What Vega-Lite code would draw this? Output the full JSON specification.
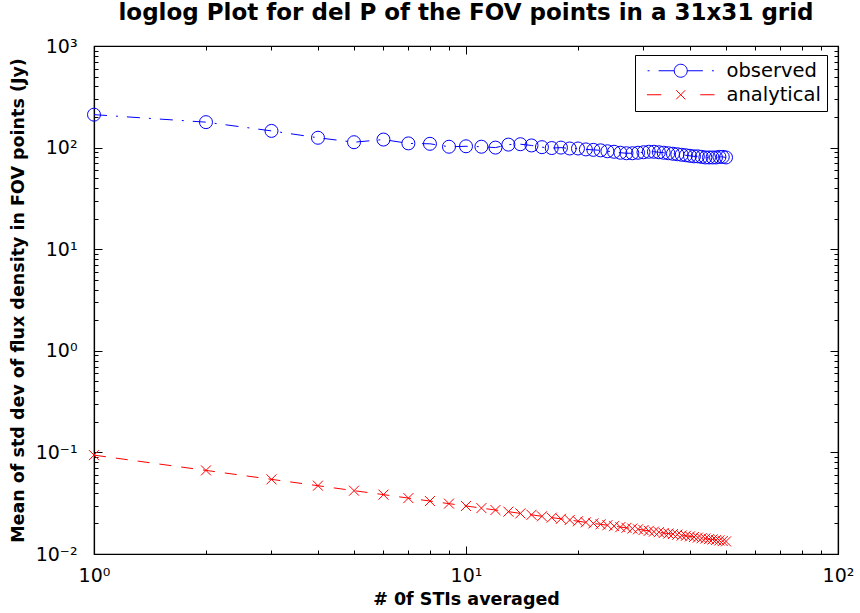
{
  "$schema": "https://vega.github.io/schema/vega-lite/v6.json",
  "width": 744,
  "height": 508,
  "autosize": {"type": "none"},
  "padding": {"left": 94, "top": 46, "right": 22, "bottom": 59},
  "background": "white",
  "title": {
    "text": "loglog Plot for del P  of the FOV points in a 31x31 grid",
    "font": "DejaVu Sans",
    "fontSize": 23,
    "fontWeight": "bold",
    "color": "black",
    "anchor": "middle",
    "offset": 12
  },
  "datasets": {
    "obs": [
      {"n": 1, "v": 211, "series": "observed"},
      {"n": 2, "v": 178, "series": "observed"},
      {"n": 3, "v": 146, "series": "observed"},
      {"n": 4, "v": 125, "series": "observed"},
      {"n": 5, "v": 113, "series": "observed"},
      {"n": 6, "v": 120, "series": "observed"},
      {"n": 7, "v": 110, "series": "observed"},
      {"n": 8, "v": 109, "series": "observed"},
      {"n": 9, "v": 102, "series": "observed"},
      {"n": 10, "v": 103, "series": "observed"},
      {"n": 11, "v": 102, "series": "observed"},
      {"n": 12, "v": 100, "series": "observed"},
      {"n": 13, "v": 107, "series": "observed"},
      {"n": 14, "v": 108, "series": "observed"},
      {"n": 15, "v": 105, "series": "observed"},
      {"n": 16, "v": 101, "series": "observed"},
      {"n": 17, "v": 99, "series": "observed"},
      {"n": 18, "v": 100, "series": "observed"},
      {"n": 19, "v": 98, "series": "observed"},
      {"n": 20, "v": 98, "series": "observed"},
      {"n": 21, "v": 96, "series": "observed"},
      {"n": 22, "v": 95, "series": "observed"},
      {"n": 23, "v": 94, "series": "observed"},
      {"n": 24, "v": 92, "series": "observed"},
      {"n": 25, "v": 91, "series": "observed"},
      {"n": 26, "v": 89, "series": "observed"},
      {"n": 27, "v": 88, "series": "observed"},
      {"n": 28, "v": 88, "series": "observed"},
      {"n": 29, "v": 89, "series": "observed"},
      {"n": 30, "v": 90, "series": "observed"},
      {"n": 31, "v": 91, "series": "observed"},
      {"n": 32, "v": 91, "series": "observed"},
      {"n": 33, "v": 90, "series": "observed"},
      {"n": 34, "v": 89, "series": "observed"},
      {"n": 35, "v": 88, "series": "observed"},
      {"n": 36, "v": 87, "series": "observed"},
      {"n": 37, "v": 86, "series": "observed"},
      {"n": 38, "v": 85, "series": "observed"},
      {"n": 39, "v": 84, "series": "observed"},
      {"n": 40, "v": 83, "series": "observed"},
      {"n": 41, "v": 82, "series": "observed"},
      {"n": 42, "v": 82, "series": "observed"},
      {"n": 43, "v": 81, "series": "observed"},
      {"n": 44, "v": 80, "series": "observed"},
      {"n": 45, "v": 80, "series": "observed"},
      {"n": 46, "v": 80, "series": "observed"},
      {"n": 47, "v": 80, "series": "observed"},
      {"n": 48, "v": 81, "series": "observed"},
      {"n": 49, "v": 81, "series": "observed"},
      {"n": 50, "v": 80, "series": "observed"}
    ],
    "ana": [
      {"n": 1, "v": 0.094, "series": "analytical"},
      {"n": 2, "v": 0.0665, "series": "analytical"},
      {"n": 3, "v": 0.0543, "series": "analytical"},
      {"n": 4, "v": 0.047, "series": "analytical"},
      {"n": 5, "v": 0.042, "series": "analytical"},
      {"n": 6, "v": 0.0384, "series": "analytical"},
      {"n": 7, "v": 0.0355, "series": "analytical"},
      {"n": 8, "v": 0.0332, "series": "analytical"},
      {"n": 9, "v": 0.0313, "series": "analytical"},
      {"n": 10, "v": 0.0297, "series": "analytical"},
      {"n": 11, "v": 0.0283, "series": "analytical"},
      {"n": 12, "v": 0.0271, "series": "analytical"},
      {"n": 13, "v": 0.0261, "series": "analytical"},
      {"n": 14, "v": 0.0251, "series": "analytical"},
      {"n": 15, "v": 0.0243, "series": "analytical"},
      {"n": 16, "v": 0.0235, "series": "analytical"},
      {"n": 17, "v": 0.0228, "series": "analytical"},
      {"n": 18, "v": 0.0222, "series": "analytical"},
      {"n": 19, "v": 0.0216, "series": "analytical"},
      {"n": 20, "v": 0.021, "series": "analytical"},
      {"n": 21, "v": 0.0205, "series": "analytical"},
      {"n": 22, "v": 0.02, "series": "analytical"},
      {"n": 23, "v": 0.0196, "series": "analytical"},
      {"n": 24, "v": 0.0192, "series": "analytical"},
      {"n": 25, "v": 0.0188, "series": "analytical"},
      {"n": 26, "v": 0.0184, "series": "analytical"},
      {"n": 27, "v": 0.0181, "series": "analytical"},
      {"n": 28, "v": 0.0178, "series": "analytical"},
      {"n": 29, "v": 0.0175, "series": "analytical"},
      {"n": 30, "v": 0.0172, "series": "analytical"},
      {"n": 31, "v": 0.0169, "series": "analytical"},
      {"n": 32, "v": 0.0166, "series": "analytical"},
      {"n": 33, "v": 0.0164, "series": "analytical"},
      {"n": 34, "v": 0.0161, "series": "analytical"},
      {"n": 35, "v": 0.0159, "series": "analytical"},
      {"n": 36, "v": 0.0157, "series": "analytical"},
      {"n": 37, "v": 0.0155, "series": "analytical"},
      {"n": 38, "v": 0.0152, "series": "analytical"},
      {"n": 39, "v": 0.0151, "series": "analytical"},
      {"n": 40, "v": 0.0149, "series": "analytical"},
      {"n": 41, "v": 0.0147, "series": "analytical"},
      {"n": 42, "v": 0.0145, "series": "analytical"},
      {"n": 43, "v": 0.0143, "series": "analytical"},
      {"n": 44, "v": 0.0142, "series": "analytical"},
      {"n": 45, "v": 0.014, "series": "analytical"},
      {"n": 46, "v": 0.0139, "series": "analytical"},
      {"n": 47, "v": 0.0137, "series": "analytical"},
      {"n": 48, "v": 0.0136, "series": "analytical"},
      {"n": 49, "v": 0.0134, "series": "analytical"},
      {"n": 50, "v": 0.0133, "series": "analytical"}
    ]
  },
  "config": {
    "view": {"stroke": "black", "strokeWidth": 1.2},
    "axis": {
      "grid": false,
      "domainColor": "black",
      "domainWidth": 1.2,
      "tickColor": "black",
      "tickWidth": 1,
      "labelColor": "black",
      "titleColor": "black",
      "labelFont": "DejaVu Sans",
      "labelFontSize": 19,
      "titleFont": "DejaVu Sans",
      "titleFontSize": 17.5,
      "titleFontWeight": "bold"
    }
  },
  "resolve": {"axis": {"x": "independent", "y": "independent"}},
  "layer": [
    {
      "data": {"name": "obs"},
      "mark": {"type": "line", "strokeWidth": 1, "strokeDash": [13, 9, 2, 9]},
      "encoding": {
        "x": {
          "field": "n", "type": "quantitative",
          "scale": {"type": "log", "domain": [1, 100], "nice": false},
          "axis": {
            "orient": "bottom", "values": [1, 10, 100], "tickSize": -8,
            "labelPadding": 20, "labelFlush": false,
            "labelExpr": "datum.value < 5 ? '10⁰' : datum.value < 50 ? '10¹' : '10²'",
            "title": "# 0f STIs averaged", "titlePadding": 5
          }
        },
        "y": {
          "field": "v", "type": "quantitative",
          "scale": {"type": "log", "domain": [0.01, 1000], "nice": false},
          "axis": {
            "orient": "left", "values": [0.01, 0.1, 1, 10, 100, 1000], "tickSize": -8,
            "labelPadding": 25, "labelFlush": false,
            "labelExpr": "datum.value < 0.05 ? '10⁻²' : datum.value < 0.5 ? '10⁻¹' : datum.value < 5 ? '10⁰' : datum.value < 50 ? '10¹' : datum.value < 500 ? '10²' : '10³'",
            "title": "Mean of std dev of flux density in FOV points (Jy)", "titlePadding": 8
          }
        },
        "color": {
          "field": "series", "type": "nominal",
          "scale": {"domain": ["observed", "analytical"], "range": ["#0000ff", "#ff0000"]},
          "legend": {
            "title": null,
            "orient": "none",
            "legendX": 541,
            "legendY": 9,
            "strokeColor": "black",
            "fillColor": "white",
            "padding": 6,
            "symbolSize": 169,
            "symbolStrokeWidth": 1,
            "symbolOffset": 30,
            "labelOffset": 36,
            "labelFont": "DejaVu Sans",
            "labelFontSize": 19.5,
            "labelColor": "black",
            "rowPadding": 3,
            "encode": {
              "symbols": {
                "update": {
                  "shape": {"signal": "datum.value === 'observed' ? 'M-5.1,0L-4.8,0M-3.4,0L-1,0M1,0L3.4,0M4.8,0L5.1,0M-1,0A1,1 0 1,1 1,0A1,1 0 1,1 -1,0' : 'M-5.2,0L-3,0M-0.7,-0.7L0.7,0.7M-0.7,0.7L0.7,-0.7M3,0L5.2,0'"},
                  "fill": {"value": "transparent"},
                  "strokeWidth": {"value": 1}
                }
              }
            }
          }
        }
      }
    },
    {
      "data": {"name": "obs"},
      "mark": {"type": "point", "shape": "circle", "filled": false, "size": 169, "strokeWidth": 1, "opacity": 1},
      "encoding": {
        "x": {
          "field": "n", "type": "quantitative",
          "axis": {
            "orient": "bottom", "values": [2, 3, 4, 5, 6, 7, 8, 9, 20, 30, 40, 50, 60, 70, 80, 90],
            "tickSize": -4, "labels": false, "domain": false, "title": null
          }
        },
        "y": {
          "field": "v", "type": "quantitative",
          "axis": {
            "orient": "left",
            "values": [0.02, 0.03, 0.04, 0.05, 0.06, 0.07, 0.08, 0.09, 0.2, 0.3, 0.4, 0.5, 0.6, 0.7, 0.8, 0.9, 2, 3, 4, 5, 6, 7, 8, 9, 20, 30, 40, 50, 60, 70, 80, 90, 200, 300, 400, 500, 600, 700, 800, 900],
            "tickSize": -4, "labels": false, "domain": false, "title": null
          }
        },
        "color": {"field": "series", "type": "nominal"}
      }
    },
    {
      "data": {"name": "ana"},
      "mark": {"type": "line", "strokeWidth": 1, "strokeDash": [12, 10]},
      "encoding": {
        "x": {
          "field": "n", "type": "quantitative",
          "axis": {"orient": "top", "values": [1, 10, 100], "tickSize": -8, "labels": false, "title": null}
        },
        "y": {
          "field": "v", "type": "quantitative",
          "axis": {"orient": "right", "values": [0.01, 0.1, 1, 10, 100, 1000], "tickSize": -8, "labels": false, "title": null}
        },
        "color": {"field": "series", "type": "nominal"}
      }
    },
    {
      "data": {"name": "ana"},
      "mark": {"type": "point", "shape": "M-1,-1L1,1M-1,1L1,-1", "filled": false, "size": 100, "strokeWidth": 1, "opacity": 1},
      "encoding": {
        "x": {
          "field": "n", "type": "quantitative",
          "axis": {
            "orient": "top", "values": [2, 3, 4, 5, 6, 7, 8, 9, 20, 30, 40, 50, 60, 70, 80, 90],
            "tickSize": -4, "labels": false, "domain": false, "title": null
          }
        },
        "y": {
          "field": "v", "type": "quantitative",
          "axis": {
            "orient": "right",
            "values": [0.02, 0.03, 0.04, 0.05, 0.06, 0.07, 0.08, 0.09, 0.2, 0.3, 0.4, 0.5, 0.6, 0.7, 0.8, 0.9, 2, 3, 4, 5, 6, 7, 8, 9, 20, 30, 40, 50, 60, 70, 80, 90, 200, 300, 400, 500, 600, 700, 800, 900],
            "tickSize": -4, "labels": false, "domain": false, "title": null
          }
        },
        "color": {"field": "series", "type": "nominal"}
      }
    }
  ]
}
